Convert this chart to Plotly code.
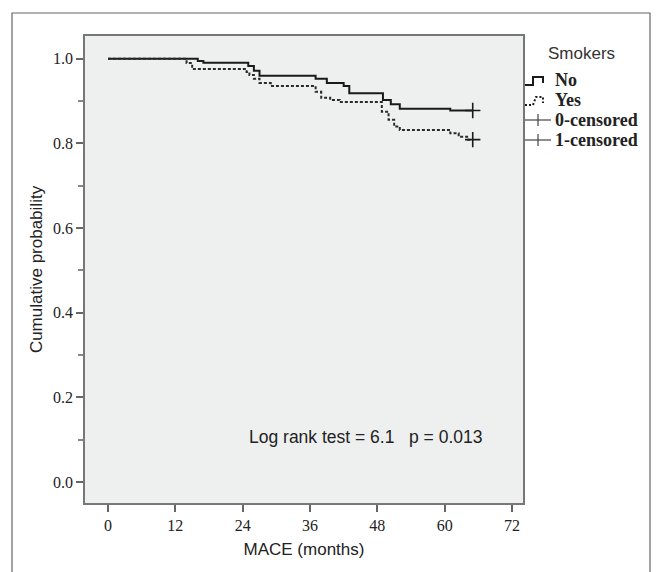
import plotly.graph_objects as go

# ---- data ----
no_times = [0, 16, 17, 25, 26, 27, 37, 39, 42, 43, 49, 50.4, 52, 61, 65]
no_surv = [1.0, 0.995, 0.991, 0.983, 0.972, 0.960, 0.953, 0.943, 0.936, 0.919, 0.903, 0.893, 0.882, 0.878, 0.878]
yes_times = [0, 14, 15, 24.7, 25.2, 26, 27, 29, 37, 38, 39.6, 41.3, 48.8, 50, 51, 52, 61, 62.5, 64, 65]
yes_surv = [1.0, 0.990, 0.976, 0.969, 0.962, 0.953, 0.943, 0.936, 0.922, 0.908, 0.903, 0.898, 0.875, 0.856, 0.840, 0.832, 0.824, 0.816, 0.809, 0.809]
cens0_times = [65]
cens0_surv = [0.878]
cens1_times = [65]
cens1_surv = [0.809]
x_ticks = [0, 12, 24, 36, 48, 60, 72]
y_ticks = [0.0, 0.2, 0.4, 0.6, 0.8, 1.0]
legend_title = "Smokers"
legend_labels = ["No", "Yes", "0-censored", "1-censored"]
stat_text = "Log rank test = 6.1\u00a0\u00a0\u00a0p = 0.013"

# plot-area geometry (pixels) for placing the hand-drawn legend
W, H = 659, 572
L, R, T, B = 85, 136, 36, 69
PW, PH = W - L - R, H - T - B


def px(x):
    return (x - L) / PW


def py(y):
    return (H - B - y) / PH


DARK = "#1a1a1a"
fig = go.Figure()
fig.add_trace(go.Scatter(x=no_times, y=no_surv, mode="lines", name=legend_labels[0],
                         line=dict(shape="hv", color=DARK, width=2)))
fig.add_trace(go.Scatter(x=yes_times, y=yes_surv, mode="lines", name=legend_labels[1],
                         line=dict(shape="hv", color="#2a2a2a", width=2, dash="3px,2px")))
fig.add_trace(go.Scatter(x=cens0_times, y=cens0_surv, mode="markers", name=legend_labels[2],
                         marker=dict(symbol="cross-thin", size=11, line=dict(color=DARK, width=1.6))))
fig.add_trace(go.Scatter(x=cens1_times, y=cens1_surv, mode="markers", name=legend_labels[3],
                         marker=dict(symbol="cross-thin", size=11, line=dict(color=DARK, width=1.6))))

fig.add_annotation(x=45.9, y=0.106, xref="x", yref="y", text=stat_text, showarrow=False,
                   font=dict(family="Liberation Sans", size=17.5, color="#222"))

# ---- hand-drawn legend (step glyphs like the original) ----
fig.add_annotation(x=px(581), y=py(53), xref="paper", yref="paper", text=legend_title, showarrow=False,
                   font=dict(family="Liberation Sans", size=17, color="#333"), xanchor="center", yanchor="middle")
item_y = [80, 100, 120, 140]
gx0, gx1, tx = 525, 550, 553
for lab, yy in zip(legend_labels, item_y):
    fig.add_annotation(x=px(tx), y=py(yy), xref="paper", yref="paper", text=lab, showarrow=False,
                       xanchor="left", yanchor="middle",
                       font=dict(family="Liberation Serif", size=18, color="#222", weight="bold"))
# No: solid step
yy = item_y[0]
fig.add_shape(type="path", xref="paper", yref="paper",
              path=f"M {px(gx0)} {py(yy+5)} L {px(533)} {py(yy+5)} L {px(533)} {py(yy-3)} "
                   f"L {px(543)} {py(yy-3)} L {px(543)} {py(yy+3)}",
              line=dict(color=DARK, width=2))
# Yes: dotted step
yy = item_y[1]
fig.add_shape(type="path", xref="paper", yref="paper",
              path=f"M {px(gx0)} {py(yy+5)} L {px(533)} {py(yy+5)} L {px(536)} {py(yy-3)} "
                   f"L {px(543)} {py(yy-3)} L {px(543)} {py(yy+3)}",
              line=dict(color=DARK, width=2, dash="2px,2px"))
# censored: line with cross
for yy in item_y[2:]:
    fig.add_shape(type="line", xref="paper", yref="paper",
                  x0=px(gx0), x1=px(gx1 + 1), y0=py(yy), y1=py(yy), line=dict(color="#444", width=1.2))
    fig.add_shape(type="line", xref="paper", yref="paper",
                  x0=px(538), x1=px(538), y0=py(yy - 6), y1=py(yy + 6), line=dict(color="#444", width=1.2))

# outer frame (left, top, right)
fig.add_shape(type="path", xref="paper", yref="paper",
              path=f"M {px(12)} {py(575)} L {px(12)} {py(13)} L {px(650)} {py(13)} L {px(650)} {py(575)}",
              line=dict(color="#666", width=1.2))

axis_font = dict(family="Liberation Serif", size=16, color="#222")
fig.update_layout(
    width=W, height=H,
    margin=dict(l=L, r=R, t=T, b=B),
    paper_bgcolor="white", plot_bgcolor="#eef0ef",
    showlegend=False,
    xaxis=dict(range=[-4.1, 73.96], tickvals=x_ticks, ticks="outside", ticklen=7, tickwidth=1.5,
               tickcolor="#666", showline=True, mirror=True, linecolor="#777", linewidth=1.5,
               showgrid=False, zeroline=False, tickfont=axis_font,
               title=dict(text="MACE (months)", font=dict(family="Liberation Sans", size=17, color="#222"), standoff=10)),
    yaxis=dict(range=[-0.0496, 1.054], tickvals=y_ticks, tickformat=".1f", ticks="outside", ticklen=7,
               tickwidth=1.5, tickcolor="#666", showline=True, mirror=True, linecolor="#777", linewidth=1.5,
               showgrid=False, zeroline=False, tickfont=axis_font,
               minor=dict(dtick=0.1, ticks="outside", ticklen=5, tickcolor="#888"),
               title=dict(text="Cumulative probability", font=dict(family="Liberation Sans", size=17, color="#222"), standoff=6)),
)

fig.write_html("out.html", config={"displayModeBar": False},
               post_script="document.body.style.margin='0';")
